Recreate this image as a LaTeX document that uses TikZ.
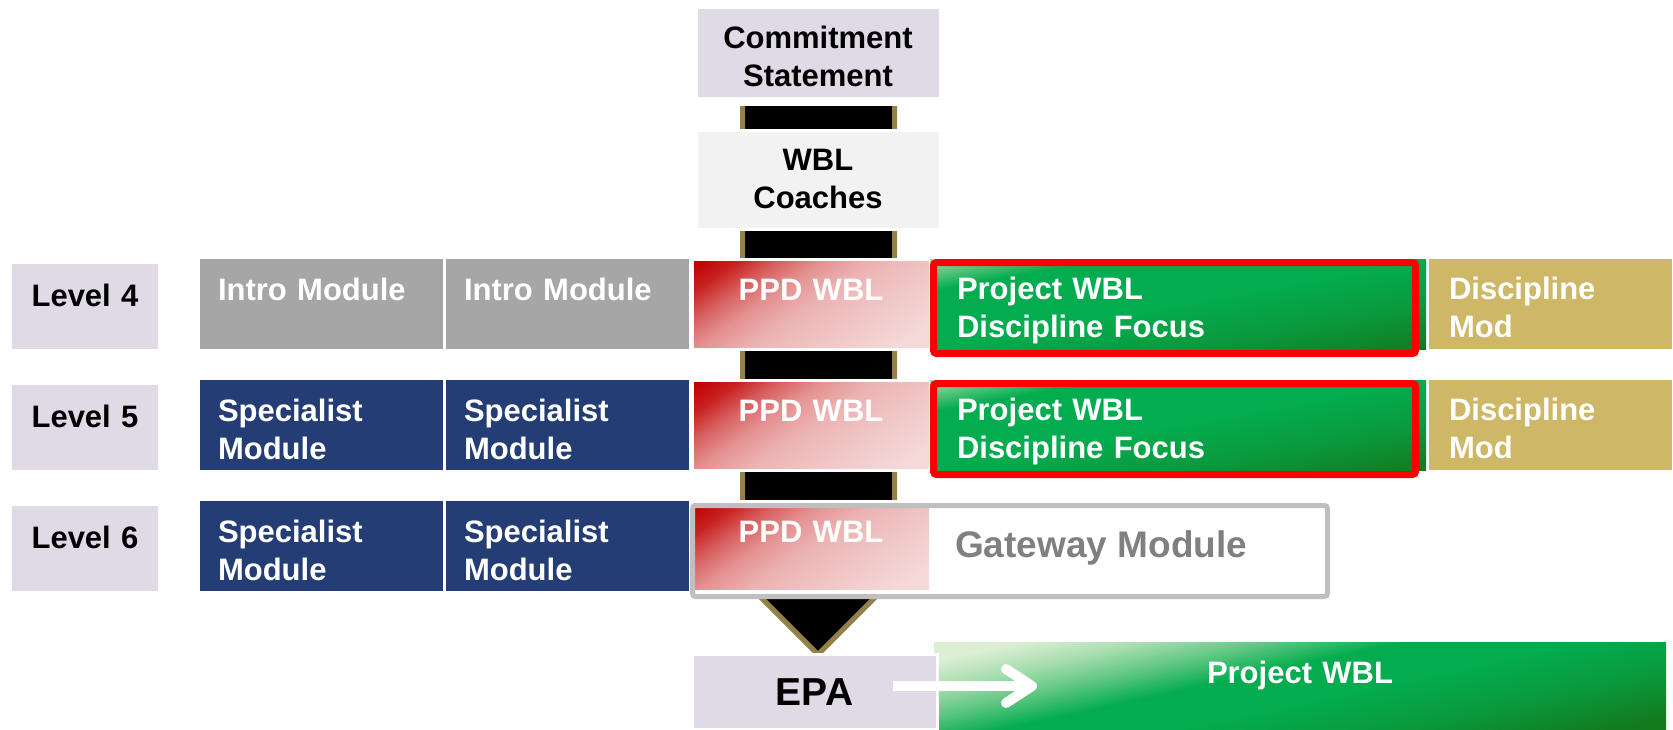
\documentclass[tikz,border=0pt]{standalone}
\usepackage{fontspec}
\setmainfont{Liberation Sans}
\usetikzlibrary{arrows.meta}

\definecolor{lavender}{HTML}{DFDAE5}
\definecolor{coachgray}{HTML}{F2F2F2}
\definecolor{introgray}{HTML}{A6A6A6}
\definecolor{navy}{HTML}{243D74}
\definecolor{discgold}{HTML}{CEB868}
\definecolor{arrowgold}{HTML}{948148}
\definecolor{gwgray}{HTML}{BFBFBF}
\definecolor{gwtextgray}{HTML}{808080}
\definecolor{ppddark}{HTML}{C00000}
\definecolor{ppdred}{HTML}{C82020}
\definecolor{ppdmid}{HTML}{D86060}
\definecolor{ppdrose}{HTML}{E49090}
\definecolor{ppdpink}{HTML}{ECB2B2}
\definecolor{ppdblush}{HTML}{F0C4C4}
\definecolor{ppdlight}{HTML}{F5D8D8}
\definecolor{grnpale}{HTML}{DCEFD4}
\definecolor{grnlight}{HTML}{A8DDB0}
\definecolor{grnsoft}{HTML}{5CC681}
\definecolor{grnmid}{HTML}{03AC4E}
\definecolor{grndeep}{HTML}{0A9A3E}
\definecolor{grndark}{HTML}{137A1E}

\pgfdeclareverticalshading{ppdshade}{100bp}{color(0bp)=(ppdlight); color(22bp)=(ppdlight); color(38bp)=(ppdblush); color(50bp)=(ppdpink); color(60bp)=(ppdrose); color(68bp)=(ppdmid); color(76bp)=(ppdred); color(84bp)=(ppddark); color(100bp)=(ppddark)}
\pgfdeclareverticalshading{grnshade}{100bp}{color(0bp)=(grndark); color(25bp)=(grndark); color(38bp)=(grndeep); color(50bp)=(grnmid); color(66bp)=(grnmid); color(71bp)=(grnsoft); color(75bp)=(grnlight); color(100bp)=(grnlight)}
\pgfdeclareverticalshading{wblshade}{100bp}{color(0bp)=(grndark); color(18bp)=(grndark); color(32bp)=(grndeep); color(45bp)=(grnmid); color(56bp)=(grnmid); color(64bp)=(grnsoft); color(72bp)=(grnlight); color(80bp)=(grnpale); color(100bp)=(grnpale)}

\tikzset{
  % corner-to-corner gradient: shading name, width/50, height/50
  diagshade/.style n args={3}{path picture={
      \pgftransformcm{#2}{#3}{-#2}{#3}{\pgfpointanchor{path picture bounding box}{center}}
      \pgflowlevelsynccm
      \pgfuseshading{#1}}},
  cell/.style={anchor=north west, inner sep=0pt, outer sep=0pt,
    font=\bfseries\fontsize{31}{38}\selectfont},
  lvlbox/.style={cell, fill=lavender, text width=146pt, align=center,
    text height=42pt, text depth=43pt},
  modbox/.style={cell, text=white, inner xsep=18pt, text width=207pt, align=left,
    text height=41pt, text depth=49pt},
  intromod/.style={modbox, fill=introgray},
  specmod/.style={modbox, fill=navy},
  ppdbox/.style={cell, text=white, text width=238pt, align=center,
    diagshade={ppdshade}{2.6}{1.8}, draw=white, line width=3pt,
    text height=41pt, text depth=49pt},
  projbox/.style={cell, text=white, inner xsep=27pt, text width=442pt, align=left,
    diagshade={grnshade}{9.92}{1.8}, text height=40pt, text depth=50pt},
  discmod/.style={cell, fill=discgold, text=white, inner xsep=20pt, text width=203pt,
    align=left, text height=40pt, text depth=50pt},
  topbox/.style={cell, text width=244pt, align=center, draw=white, line width=3pt},
  epabox/.style={cell, fill=lavender, draw=white, line width=3pt, text width=245pt,
    align=center, font=\bfseries\fontsize{39}{45}\selectfont,
    text height=51pt, text depth=24pt},
  wblbox/.style={cell, text=white, text width=732pt, align=center,
    diagshade={wblshade}{8}{1.74}, text height=41pt, text depth=46pt},
  gwbox/.style={cell, fill=white, minimum width=635pt, minimum height=91pt},
  gwline/.style={draw=gwgray, line width=5pt, rounded corners=3pt},
  gwtext/.style={anchor=base west, inner sep=0pt, text=gwtextgray,
    font=\bfseries\fontsize{37}{44}\selectfont},
  redframe/.style={draw=red, line width=7pt, rounded corners=3pt},
  arrowbody/.style={fill=black, draw=arrowgold, line width=5pt},
  epaarrow/.style={draw=white, line width=10pt,
    -{Straight Barb[length=26pt, width=34pt, round]}},
}

\begin{document}
\begin{tikzpicture}[x=1pt, y=-1pt]
    \useasboundingbox (0,0) rectangle (1673,729);

    % big arrow behind the middle column
    \filldraw[arrowbody] (742.5,106) -- (742.5,555) -- (718.5,555) -- (818,654.5)
        -- (917.5,555) -- (894.5,555) -- (894.5,106);

    \node[topbox, fill=lavender, text height=41pt, text depth=50pt] (commit) at (696,7) {Commitment\\Statement};
    \node[topbox, fill=coachgray, text height=40pt, text depth=59pt] (coaches) at (696,130) {WBL\\Coaches};

    \node[lvlbox] (lvl4) at (12,264) {Level 4};
    \node[lvlbox] (lvl5) at (12,385) {Level 5};
    \node[lvlbox] (lvl6) at (12,506) {Level 6};

    % level 4
    \node[intromod] (intro1) at (200,259) {Intro Module};
    \node[intromod] (intro2) at (446,259) {Intro Module};
    \node[ppdbox] (ppd4) at (692,259) {PPD WBL};
    \node[projbox] (proj4) at (930,259) {Project WBL\\Discipline Focus};
    \node[discmod] (disc4) at (1429,259) {Discipline\\Mod};
    \draw[redframe] ([shift={(3.5,3.5)}]proj4.north west) rectangle ([shift={(-10.5,4.5)}]proj4.south east);

    % level 5
    \node[specmod] (spec5a) at (200,380) {Specialist\\Module};
    \node[specmod] (spec5b) at (446,380) {Specialist\\Module};
    \node[ppdbox] (ppd5) at (692,380) {PPD WBL};
    \node[projbox] (proj5) at (930,380) {Project WBL\\Discipline Focus};
    \node[discmod] (disc5) at (1429,380) {Discipline\\Mod};
    \draw[redframe] ([shift={(3.5,3.5)}]proj5.north west) rectangle ([shift={(-10.5,4.5)}]proj5.south east);

    % level 6
    \node[specmod] (spec6a) at (200,501) {Specialist\\Module};
    \node[specmod] (spec6b) at (446,501) {Specialist\\Module};
    \node[gwbox] (gateway) at (692.5,505.5) {};
    \node[ppdbox] (ppd6) at (692,501) {PPD WBL};
    \draw[gwline] (gateway.north west) rectangle (gateway.south east);
    \node[gwtext] (gwlabel) at (955,557) {Gateway Module};

    % end point
    \node[wblbox] (projwbl) at (934,642) {Project WBL};
    \node[epabox] (epa) at (692,654) {EPA};
    \coordinate (epastart) at (893,686);
    \coordinate (epatip) at (1037,686);
    \draw[epaarrow] (epastart) -- (epatip);
\end{tikzpicture}
\end{document}
